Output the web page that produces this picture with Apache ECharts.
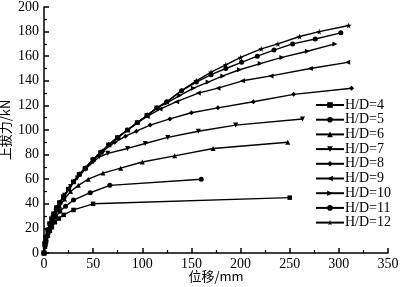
<!DOCTYPE html>
<html>
<head>
<meta charset="utf-8">
<script src="https://cdn.jsdelivr.net/npm/echarts@6/dist/echarts.min.js"></script>
<style>
  html, body { margin: 0; padding: 0; background: #fff; }
  #chart { width: 401px; height: 287px; }
</style>
</head>
<body>
<div id="chart"></div>
<script>
// displacement (mm), uplift force (kN)
var hd4 = [[0,0],[1,5],[2,9],[4,14],[6,18],[8,21],[11,25],[15,28],[20,31],[30,35],[50,40],[250,45]];
var hd5 = [[0,0],[1,6],[2,10],[4,16],[6,20],[9,25],[12,29],[16,34],[22,38],[30,43],[47,49],[67,55],[160,60]];
var hd6 = [[0,0],[1,7],[2,11],[4,17],[6,22],[9,27],[12,32],[16,38],[21,44],[27,50],[35,55],[45,60],[60,65],[78,69],[100,74],[133,79],[172,85],[248,90]];
var hd7 = [[0,0],[1,7],[2,12],[4,18],[6,23],[9,29],[12,34],[16,40],[21,47],[27,54],[34,61],[42,68],[50,74],[56,78],[65,81],[85,85],[103,89],[126,94],[157,99],[195,104],[263,109]];
var hd8 = [[0,0],[1,8],[2,13],[4,19],[6,24],[8,28],[10,32],[13,37],[16,41],[20,46],[25,52],[30,58],[36,64],[42,69],[50,76],[60,83],[72,90],[83,95],[94,99],[108,104],[128,109],[150,114],[177,118],[213,123],[254,129],[313,134]];
var hd9 = [[0,0],[1,8],[2,13],[4,19],[6,24],[8,28],[10,32],[13,37],[16,41],[20,46],[25,52],[30,58],[36,64],[42,69],[50,76],[58,82],[66,88],[75,94],[85,100],[95,106],[105,111],[118,117],[135,123],[157,130],[177,134],[202,140],[231,144],[271,150],[309,155]];
var hd10 = [[0,0],[1,8],[2,13],[4,19],[6,24],[8,28],[10,32],[13,37],[16,41],[20,46],[25,52],[30,58],[36,64],[42,69],[50,76],[58,82],[66,88],[75,94],[85,100],[95,106],[105,112],[115,118],[125,122],[138,128],[152,134],[167,139],[182,144],[199,149],[220,154],[242,159],[268,164],[296,170]];
var hd11 = [[0,0],[1,8],[2,13],[4,19],[6,24],[8,28],[10,32],[13,37],[16,41],[20,46],[25,52],[30,58],[36,64],[42,69],[50,76],[58,82],[66,88],[75,94],[85,100],[95,106],[105,112],[115,118],[125,123],[140,132],[155,139],[170,145],[185,150],[201,155],[217,160],[234,165],[253,170],[276,174],[302,179]];
var hd12 = [[0,0],[1,8],[2,13],[4,19],[6,24],[8,28],[10,32],[13,37],[16,41],[20,46],[25,52],[30,58],[36,64],[42,69],[50,76],[58,82],[66,88],[75,94],[85,100],[95,106],[105,112],[115,118],[125,123],[140,132],[155,140],[170,147],[185,153],[200,159],[221,166],[238,170],[260,176],[280,180],[310,185]];

var names = ['H/D=4','H/D=5','H/D=6','H/D=7','H/D=8','H/D=9','H/D=10','H/D=11','H/D=12'];
var seriesData = [hd4, hd5, hd6, hd7, hd8, hd9, hd10, hd11, hd12];
var xTicks = [0, 50, 100, 150, 200, 250, 300, 350];
var yTicks = [0, 20, 40, 60, 80, 100, 120, 140, 160, 180, 200];

var star = 'path://M50,0 L61,35 L98,35 L68,57 L79,91 L50,70 L21,91 L32,57 L2,35 L39,35 Z';
var symbols = ['rect','circle','triangle','triangle','diamond','triangle','triangle','circle',star];
var rotates = [0, 0, 0, 180, 0, 90, -90, 0, 0];
var sizes = [4.5, 5, 5, 5, 5, 5, 5, 5, 6];

var serif = '"Liberation Serif", "DejaVu Serif", serif';

var chart = echarts.init(document.getElementById('chart'));

var series = [];
for (var i = 0; i < seriesData.length; i++) {
  series.push({
    name: names[i],
    type: 'line',
    data: seriesData[i],
    symbol: symbols[i],
    symbolRotate: rotates[i],
    symbolSize: sizes[i],
    showAllSymbol: true,
    lineStyle: { color: '#000', width: 1.4 },
    itemStyle: { color: '#000', borderWidth: 0 },
    z: 2 + i
  });
}

var option = {
  backgroundColor: '#fff',
  animation: false,
  grid: { left: 44, right: 13, top: 7, bottom: 34, containLabel: false, outerBoundsMode: 'none' },
  legend: {
    orient: 'vertical',
    left: 310,
    top: 93,
    padding: 5,
    itemWidth: 28,
    itemHeight: 7,
    itemGap: 0.7,
    symbolRotate: 'inherit',
    textStyle: { fontFamily: serif, fontSize: 14, lineHeight: 14, color: '#000', padding: [0, 0, 0, -4] },
    data: names
  },
  xAxis: {
    type: 'value',
    min: xTicks[0],
    max: xTicks[xTicks.length - 1],
    interval: 50,
    name: '位移/mm',
    nameLocation: 'middle',
    nameGap: 17,
    nameMoveOverlap: false,
    nameTextStyle: { fontFamily: '"Noto Sans CJK SC", ' + serif, fontSize: 13, color: '#000' },
    axisLine: { show: true, lineStyle: { color: '#000', width: 1.5 } },
    axisTick: { show: true, inside: true, length: 5, lineStyle: { color: '#000', width: 1.5 } },
    minorTick: { show: true, splitNumber: 2, length: 3, lineStyle: { color: '#000', width: 1.2 } },
    axisLabel: { fontFamily: serif, fontSize: 14, color: '#000', margin: 4 },
    splitLine: { show: false }
  },
  yAxis: {
    type: 'value',
    min: yTicks[0],
    max: yTicks[yTicks.length - 1],
    interval: 20,
    name: '上拔力/kN',
    nameLocation: 'middle',
    nameGap: 32,
    nameMoveOverlap: false,
    nameTextStyle: { fontFamily: '"Noto Sans CJK SC", ' + serif, fontSize: 13, color: '#000' },
    axisLine: { show: true, lineStyle: { color: '#000', width: 1.5 } },
    axisTick: { show: true, inside: true, length: 5, lineStyle: { color: '#000', width: 1.5 } },
    minorTick: { show: true, splitNumber: 2, length: 3, lineStyle: { color: '#000', width: 1.2 } },
    axisLabel: { fontFamily: serif, fontSize: 14, color: '#000', margin: 5 },
    splitLine: { show: false }
  },
  series: series
};

chart.setOption(option);
</script>
</body>
</html>
